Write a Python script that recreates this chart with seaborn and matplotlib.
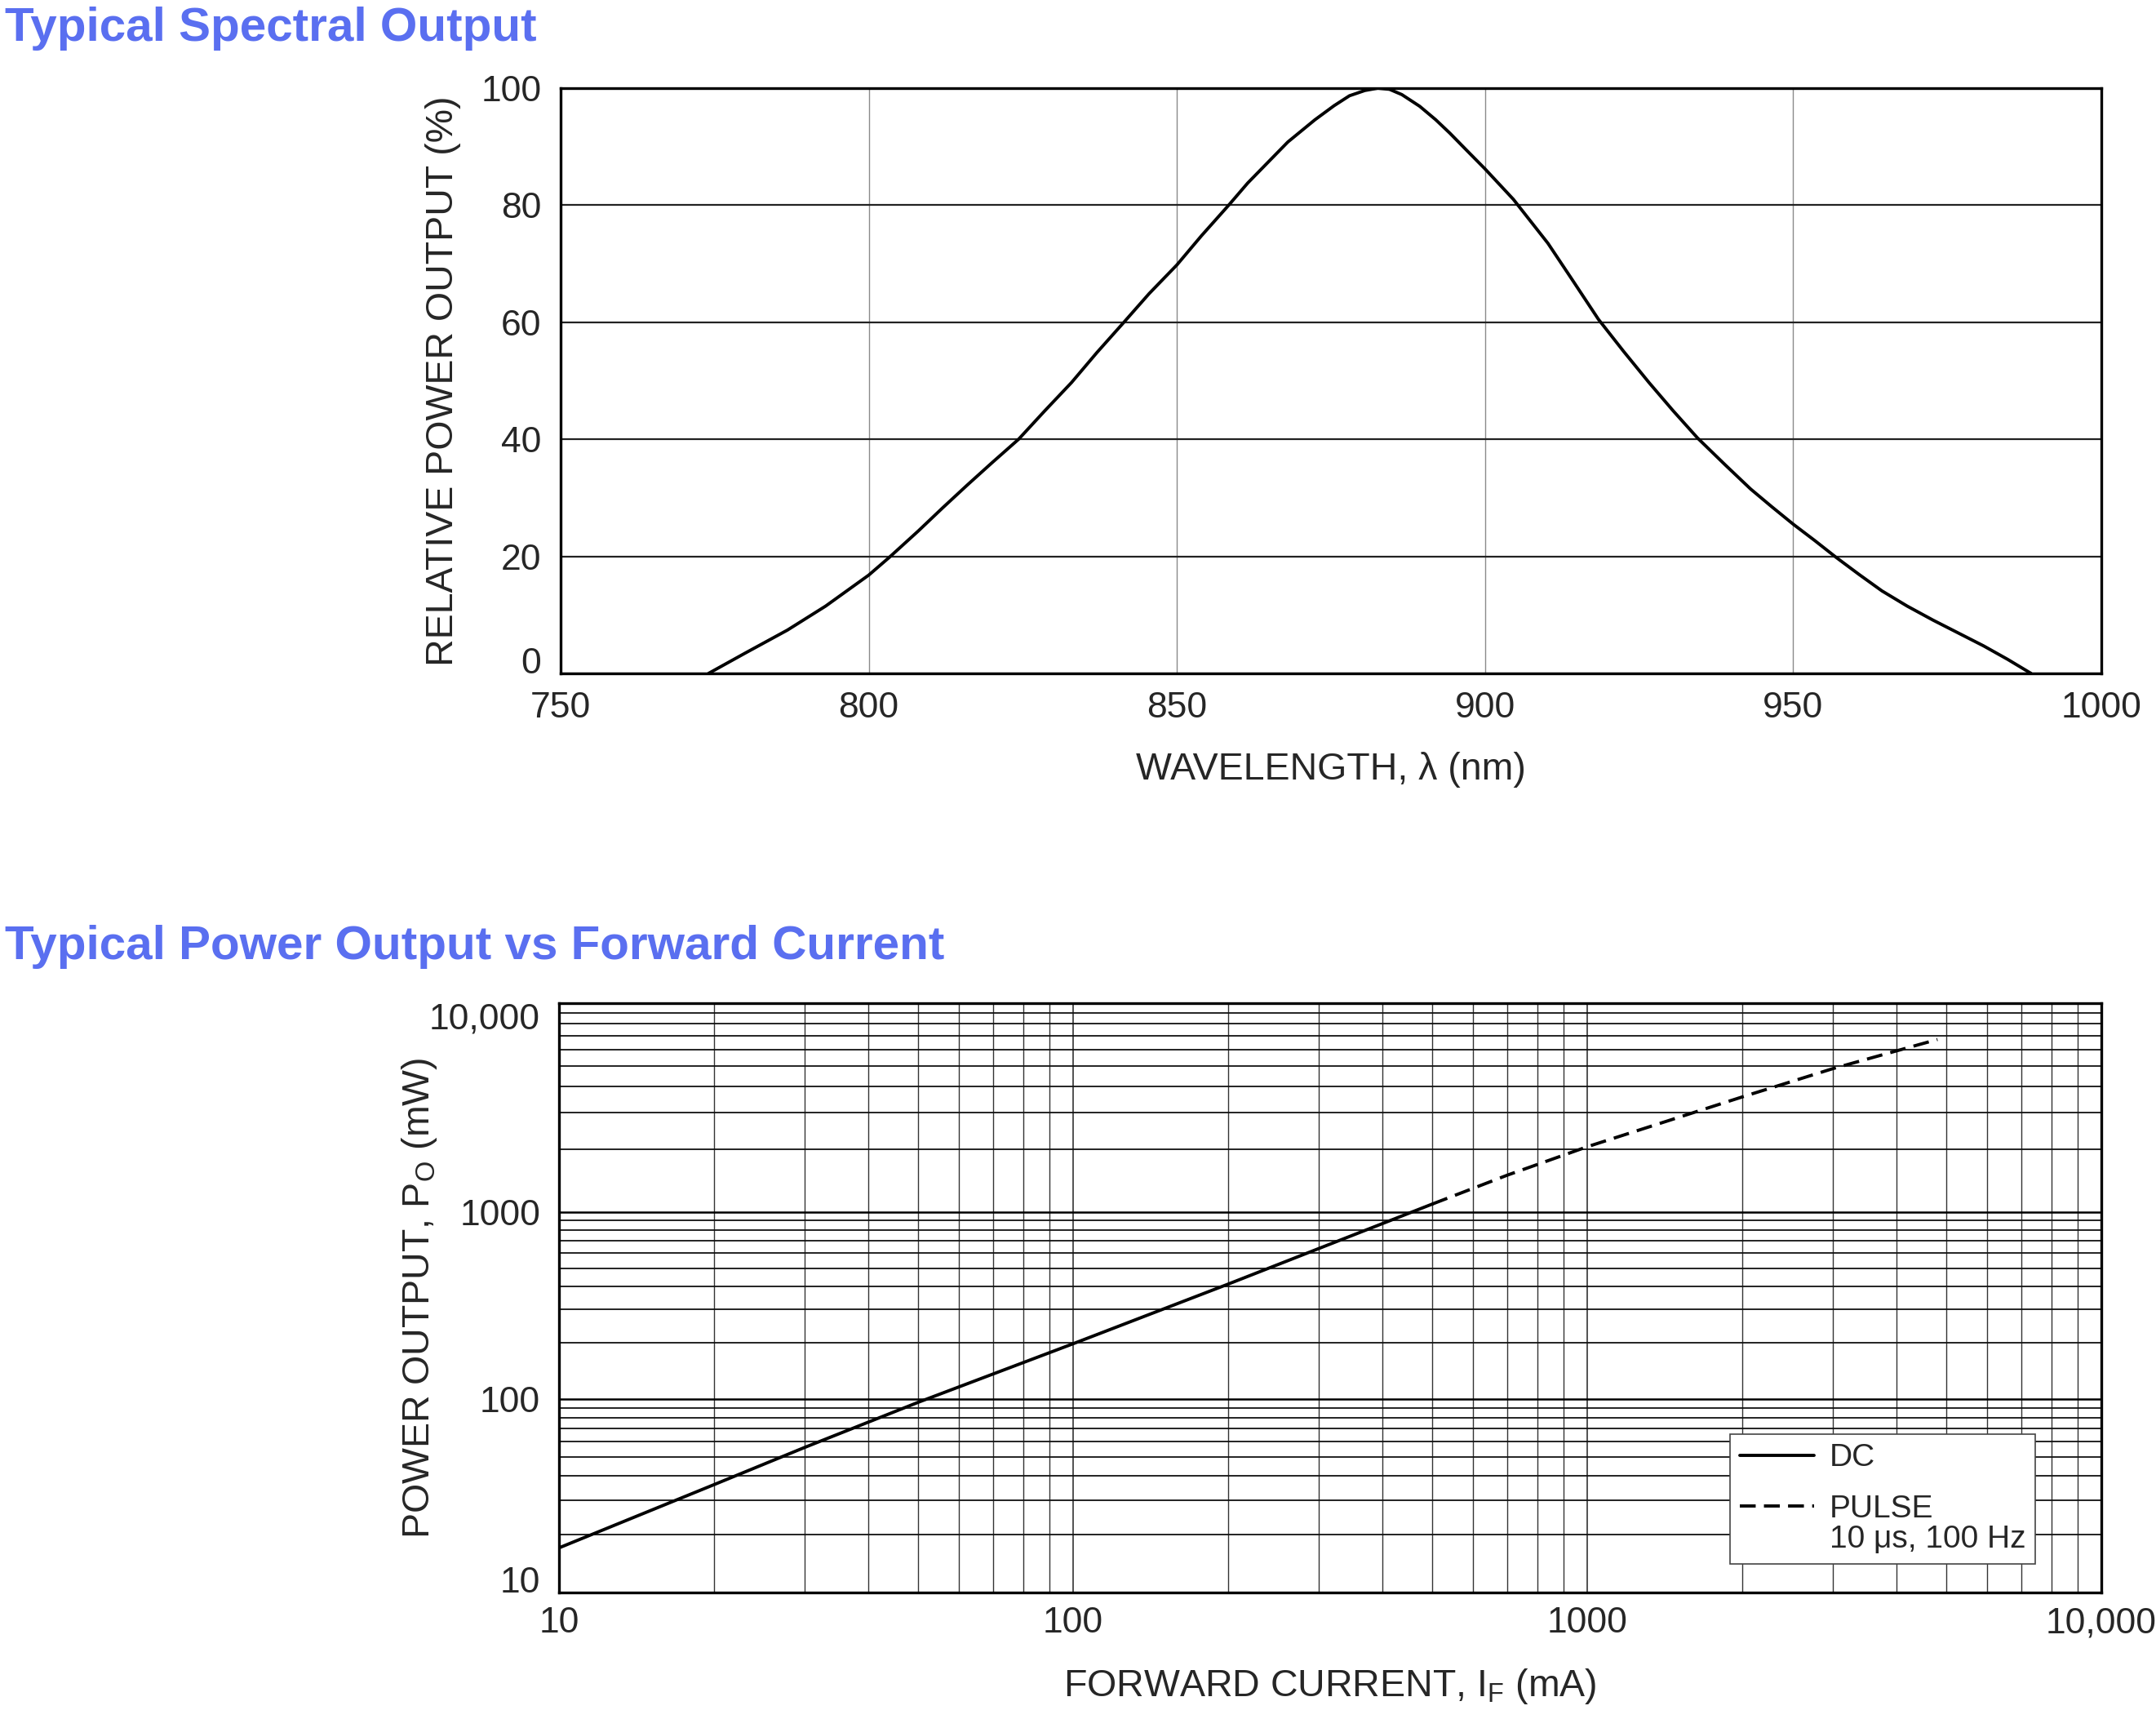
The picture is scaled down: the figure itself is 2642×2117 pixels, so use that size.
"""
Typical spectral output and power output vs forward current (IR LED datasheet style).
"""

import numpy as np
import pandas as pd
import matplotlib
matplotlib.use("Agg")
import matplotlib.pyplot as plt
import matplotlib.ticker as mticker
import seaborn as sns

# --- 1. DATA ---
wavelength_nm = [774.0, 780.0, 786.8, 793.0, 800.0, 803.3, 808.0, 812.0, 816.0, 820.0,
                 824.3, 828.5, 832.9, 837.0, 841.4, 845.5, 850.0, 854.0, 858.4, 861.5,
                 864.1, 868.0, 872.4, 875.5, 878.0, 880.5, 882.6, 884.5, 886.5, 889.4,
                 892.0, 894.3, 897.0, 900.0, 904.6, 910.2, 914.0, 918.4, 922.5, 926.6,
                 930.5, 934.5, 939.0, 943.1, 946.5, 950.0, 953.5, 957.0, 960.7, 964.4,
                 968.5, 972.7, 976.8, 980.9, 984.8, 988.6]
relative_power = [0.0, 3.5, 7.4, 11.5, 16.8, 19.8, 24.3, 28.3, 32.2, 36.0,
                  40.0, 44.8, 49.7, 54.8, 60.0, 64.9, 69.8, 74.8, 80.0, 83.8,
                  86.6, 90.8, 94.6, 97.0, 98.7, 99.6, 100.0, 99.8, 98.9, 96.9,
                  94.6, 92.3, 89.4, 86.2, 81.0, 73.5, 67.5, 60.5, 55.0, 49.7,
                  44.9, 40.2, 35.6, 31.5, 28.5, 25.5, 22.7, 19.8, 16.9, 14.1,
                  11.5, 9.1, 6.9, 4.7, 2.4, 0.0]

current_dc_ma = [10, 20, 30, 50, 100, 200, 300, 500]
power_dc_mw = [17, 36, 56, 96, 197, 410, 635, 1090]
current_pulse_ma = [500, 700, 1000, 2000, 3000, 4800]
power_pulse_mw = [1090, 1500, 2050, 3550, 4850, 6700]
mode_labels = ["DC", "PULSE\n10 \u03bcs, 100 Hz"]

spec_xticks = [750, 800, 850, 900, 950, 1000]
spec_yticks = [0, 20, 40, 60, 80, 100]
log_ticks = [10, 100, 1000, 10000]
log_ticklabels = ["10", "100", "1000", "10,000"]

# decade positions on the reference's y axis are not perfectly even
y_decade_log = [-3, 1, 2, 3, 4, 8]
y_decade_pos = [-3, 1, 1.986, 2.938, 4, 8]

# --- 2. STYLE ---
sns.set_style("white")
plt.rcParams["font.family"] = ["Liberation Sans", "DejaVu Sans"]
plt.rcParams["mathtext.fontset"] = "custom"
plt.rcParams["mathtext.rm"] = "Liberation Sans"

TITLE_BLUE = "#5a6ff0"
LABEL_SIZE = 33.5
TICK_SIZE = 32
W, H = 2642, 2117

fig = plt.figure(figsize=(W / 100, H / 100), dpi=100)
ax1 = fig.add_axes([687 / W, 1 - 825 / H, (2575 - 687) / W, (825 - 108) / H])
ax2 = fig.add_axes([685 / W, 1 - 1951 / H, (2575 - 685) / W, (1951 - 1229) / H])

fig.text(6 / W, 1 - 50 / H, "Typical Spectral Output", ha="left", va="baseline",
         fontsize=42, weight="bold", color=TITLE_BLUE)
fig.text(6 / W, 1 - 1175 / H, "Typical Power Output vs Forward Current", ha="left",
         va="baseline", fontsize=42, weight="bold", color=TITLE_BLUE)

# --- 3. SPECTRAL OUTPUT ---
spec_df = pd.DataFrame({"wavelength": wavelength_nm, "power": relative_power})
sns.lineplot(data=spec_df, x="wavelength", y="power", ax=ax1, color="black",
             linewidth=2.8, sort=False)
ax1.set_xlim(750, 1000)
ax1.set_ylim(0, 100)
ax1.set_xticks(spec_xticks)
ax1.set_yticks(spec_yticks)
ax1.xaxis.grid(True, color="#8a8a8a", linewidth=1.0)
ax1.yaxis.grid(True, color="#222222", linewidth=1.6)
ax1.set_axisbelow(True)
ax1.tick_params(axis="both", length=0, labelsize=TICK_SIZE)
ax1.tick_params(axis="x", pad=15.5)
ax1.tick_params(axis="y", pad=17)
ax1.get_yticklabels()[0].set_va("baseline")
ax1.set_xlabel("WAVELENGTH, \u03bb (nm)", fontsize=LABEL_SIZE)
ax1.set_ylabel("RELATIVE POWER OUTPUT (%)", fontsize=LABEL_SIZE)
ax1.xaxis.set_label_coords(0.5, -0.1646)
ax1.xaxis.label.set_va("center")
ax1.yaxis.set_label_coords(-0.0763, 0.5)
ax1.yaxis.label.set_va("center")

# --- 4. POWER OUTPUT VS FORWARD CURRENT ---
power_df = pd.DataFrame({
    "current": current_dc_ma + current_pulse_ma,
    "power": power_dc_mw + power_pulse_mw,
    "mode": [mode_labels[0]] * len(current_dc_ma) + [mode_labels[1]] * len(current_pulse_ma),
})
sns.lineplot(data=power_df, x="current", y="power", style="mode", ax=ax2,
             color="black", linewidth=2.8,
             dashes={mode_labels[0]: "", mode_labels[1]: (5, 2.6)}, legend=True)

ax2.set_xscale("log")
ax2.set_yscale("function", functions=(
    lambda v: np.interp(np.log10(np.clip(v, 1e-6, None)), y_decade_log, y_decade_pos),
    lambda u: 10 ** np.interp(u, y_decade_pos, y_decade_log)))
ax2.set_xlim(10, 10000)
ax2.set_ylim(10, 10000)

minor_vals = [k * 10 ** n for n in range(1, 4) for k in range(2, 10)]
ax2.xaxis.set_major_locator(mticker.FixedLocator(log_ticks))
ax2.xaxis.set_minor_locator(mticker.FixedLocator(minor_vals))
ax2.yaxis.set_major_locator(mticker.FixedLocator(log_ticks))
ax2.yaxis.set_minor_locator(mticker.FixedLocator(minor_vals))
ax2.xaxis.set_major_formatter(mticker.FixedFormatter(log_ticklabels))
ax2.yaxis.set_major_formatter(mticker.FixedFormatter(log_ticklabels))
ax2.xaxis.set_minor_formatter(mticker.NullFormatter())
ax2.yaxis.set_minor_formatter(mticker.NullFormatter())

ax2.xaxis.grid(True, which="major", color="#222222", linewidth=1.1)
ax2.xaxis.grid(True, which="minor", color="#333333", linewidth=1.0)
ax2.yaxis.grid(True, which="major", color="#000000", linewidth=1.8)
ax2.yaxis.grid(True, which="minor", color="#111111", linewidth=1.3)
ax2.set_axisbelow(True)
ax2.tick_params(axis="both", which="both", length=0, labelsize=TICK_SIZE)
ax2.tick_params(axis="x", pad=12.6)
ax2.tick_params(axis="y", pad=16.5)
ylabels = ax2.get_yticklabels()
ylabels[0].set_va("baseline")
ylabels[-1].set_va("top")

ax2.set_xlabel(r"FORWARD CURRENT, I$_\mathregular{F}$ (mA)", fontsize=LABEL_SIZE)
ax2.set_ylabel(r"POWER OUTPUT, P$_\mathregular{O}$ (mW)", fontsize=LABEL_SIZE)
ax2.xaxis.set_label_coords(0.5, -0.159)
ax2.xaxis.label.set_va("center")
ax2.yaxis.set_label_coords(-0.0905, 0.5)
ax2.yaxis.label.set_va("center")

handles, labels = ax2.get_legend_handles_labels()
leg = ax2.legend(handles, labels, loc="lower right", bbox_to_anchor=(0.957, 0.0485),
                 fontsize=28, frameon=True, fancybox=False, framealpha=1,
                 edgecolor="#444444", handlelength=2.36, handletextpad=0.47,
                 borderpad=0.3, labelspacing=0.68, borderaxespad=0)
leg.get_frame().set_linewidth(1.2)
for txt in leg.get_texts():
    txt.set_linespacing(1.05)
# keep the dashed handle level with the first line of its two-line label
try:
    for column in leg._legend_handle_box.get_children():
        for row in column.get_children():
            label_area = row.get_children()[1]
            if "\n" in label_area._text.get_text():
                row.align = "top"
except AttributeError:
    pass

for ax in (ax1, ax2):
    for spine in ax.spines.values():
        spine.set_visible(True)
        spine.set_color("black")
        spine.set_linewidth(2.4)

fig.savefig("out.png", dpi=100, facecolor="white")
